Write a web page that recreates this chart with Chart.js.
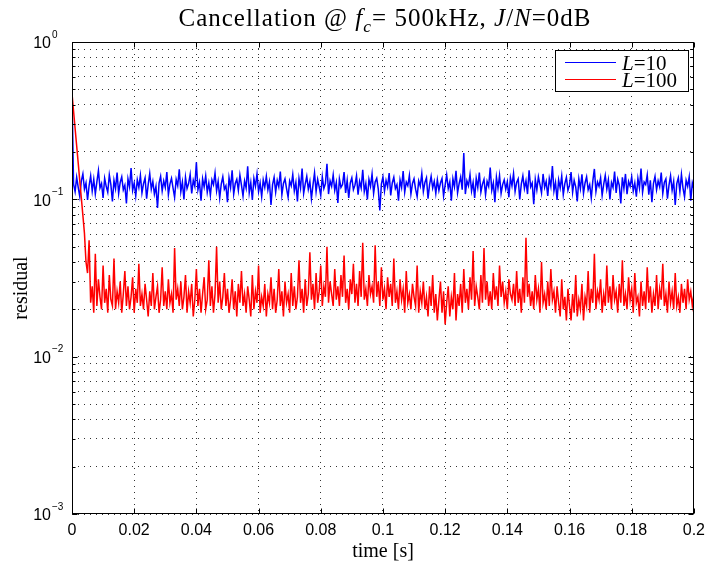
<!DOCTYPE html>
<html>
<head>
<meta charset="utf-8">
<script src="https://cdn.jsdelivr.net/npm/chart.js@4.4.0/dist/chart.umd.min.js"></script>
<style>
    html, body { margin: 0; padding: 0; background: #fff; }
</style>
</head>
<body>
<canvas id="myChart" width="712" height="570"></canvas>
<script>
// one residual sample every 0.5 ms
const timeStep = 0.0005;

const residualL10 = [
    0.47,
    0.125, 0.112, 0.138, 0.119, 0.104, 0.131, 0.145, 0.116, 0.127, 0.099, 0.122, 0.141, 0.113, 0.134, 0.108, 0.129, 0.152, 0.118, 0.126, 0.102,
    0.136, 0.121, 0.111, 0.143, 0.124, 0.097, 0.132, 0.117, 0.148, 0.109, 0.128, 0.139, 0.115, 0.123, 0.094, 0.135, 0.120, 0.158, 0.114, 0.127,
    0.105, 0.133, 0.119, 0.142, 0.110, 0.126, 0.137, 0.101, 0.124, 0.146, 0.116, 0.130, 0.108, 0.121, 0.088, 0.127, 0.140, 0.113, 0.131, 0.119,
    0.149, 0.107, 0.125, 0.136, 0.118, 0.103, 0.134, 0.122, 0.155, 0.112, 0.129, 0.100, 0.138, 0.117, 0.126, 0.144, 0.109, 0.132, 0.121, 0.172,
    0.115, 0.128, 0.098, 0.135, 0.120, 0.141, 0.111, 0.127, 0.106, 0.133, 0.124, 0.147, 0.113, 0.130, 0.102, 0.125, 0.139, 0.116, 0.122, 0.096,
    0.137, 0.119, 0.153, 0.108, 0.126, 0.134, 0.114, 0.143, 0.123, 0.105, 0.131, 0.118, 0.162, 0.110, 0.128, 0.099, 0.136, 0.121, 0.145, 0.112,
    0.127, 0.104, 0.133, 0.119, 0.140, 0.115, 0.129, 0.092, 0.124, 0.138, 0.111, 0.132, 0.120, 0.150, 0.107, 0.126, 0.135, 0.117, 0.103, 0.131,
    0.122, 0.144, 0.113, 0.128, 0.097, 0.136, 0.118, 0.157, 0.109, 0.125, 0.140, 0.116, 0.130, 0.101, 0.123, 0.147, 0.112, 0.134, 0.120, 0.106,
    0.139, 0.117, 0.126, 0.168, 0.108, 0.131, 0.121, 0.143, 0.114, 0.128, 0.095, 0.135, 0.119, 0.124, 0.149, 0.110, 0.132, 0.102, 0.127, 0.137,
    0.115, 0.123, 0.141, 0.107, 0.130, 0.118, 0.154, 0.112, 0.126, 0.100, 0.134, 0.121, 0.145, 0.109, 0.129, 0.136, 0.116, 0.085, 0.125, 0.139,
    0.113, 0.132, 0.120, 0.147, 0.106, 0.127, 0.138, 0.117, 0.124, 0.098, 0.133, 0.119, 0.151, 0.111, 0.129, 0.122, 0.142, 0.108, 0.126, 0.135,
    0.116, 0.104, 0.131, 0.121, 0.146, 0.112, 0.128, 0.137, 0.101, 0.124, 0.140, 0.118, 0.130, 0.109, 0.133, 0.114, 0.127, 0.136, 0.105, 0.123,
    0.143, 0.117, 0.129, 0.098, 0.135, 0.120, 0.152, 0.110, 0.126, 0.139, 0.115, 0.197, 0.108, 0.131, 0.122, 0.144, 0.113, 0.128, 0.102, 0.136,
    0.119, 0.148, 0.111, 0.125, 0.134, 0.107, 0.130, 0.121, 0.159, 0.114, 0.127, 0.096, 0.138, 0.118, 0.142, 0.109, 0.124, 0.133, 0.116, 0.129,
    0.103, 0.137, 0.122, 0.146, 0.112, 0.128, 0.135, 0.100, 0.125, 0.141, 0.117, 0.131, 0.108, 0.153, 0.120, 0.127, 0.093, 0.134, 0.115, 0.139,
    0.124, 0.110, 0.145, 0.119, 0.130, 0.105, 0.136, 0.121, 0.163, 0.113, 0.128, 0.099, 0.133, 0.118, 0.141, 0.107, 0.126, 0.138, 0.114, 0.123,
    0.149, 0.111, 0.132, 0.120, 0.097, 0.135, 0.117, 0.144, 0.109, 0.127, 0.139, 0.115, 0.124, 0.102, 0.131, 0.156, 0.112, 0.129, 0.121, 0.137,
    0.106, 0.125, 0.142, 0.116, 0.133, 0.100, 0.128, 0.119, 0.150, 0.110, 0.134, 0.123, 0.094, 0.138, 0.117, 0.145, 0.108, 0.130, 0.121, 0.139,
    0.113, 0.127, 0.104, 0.136, 0.118, 0.157, 0.111, 0.129, 0.124, 0.143, 0.107, 0.132, 0.096, 0.126, 0.140, 0.115, 0.131, 0.120, 0.148, 0.109,
    0.128, 0.135, 0.101, 0.123, 0.141, 0.114, 0.130, 0.092, 0.126, 0.137, 0.112, 0.144, 0.118, 0.104, 0.132, 0.121, 0.139, 0.098, 0.127, 0.116
];

const residualL100 = [
    0.47, 0.364, 0.282, 0.219, 0.170, 0.131, 0.102, 0.079, 0.061, 0.040,
    0.034, 0.055, 0.022, 0.028, 0.019, 0.045, 0.021, 0.031, 0.024, 0.020, 0.038, 0.022, 0.027, 0.019, 0.033, 0.023, 0.021, 0.042, 0.020, 0.026,
    0.022, 0.030, 0.019, 0.025, 0.035, 0.021, 0.028, 0.020, 0.024, 0.032, 0.019, 0.027, 0.022, 0.039, 0.021, 0.025, 0.020, 0.029, 0.023, 0.018,
    0.026, 0.021, 0.034, 0.020, 0.024, 0.028, 0.019, 0.023, 0.037, 0.021, 0.026, 0.020, 0.031, 0.022, 0.025, 0.019, 0.049, 0.023, 0.027, 0.021,
    0.030, 0.020, 0.024, 0.033, 0.019, 0.026, 0.022, 0.029, 0.018, 0.023, 0.036, 0.021, 0.027, 0.019, 0.025, 0.032, 0.020, 0.023, 0.041, 0.021,
    0.028, 0.019, 0.025, 0.050, 0.022, 0.030, 0.020, 0.024, 0.034, 0.021, 0.027, 0.019, 0.023, 0.031, 0.020, 0.026, 0.018, 0.029, 0.022, 0.035,
    0.021, 0.025, 0.019, 0.028, 0.023, 0.018, 0.033, 0.020, 0.026, 0.022, 0.038, 0.019, 0.024, 0.021, 0.029, 0.018, 0.025, 0.022, 0.032, 0.020,
    0.027, 0.019, 0.023, 0.036, 0.021, 0.026, 0.018, 0.030, 0.022, 0.025, 0.019, 0.034, 0.021, 0.028, 0.020, 0.024, 0.041, 0.022, 0.027, 0.019,
    0.031, 0.021, 0.025, 0.046, 0.023, 0.029, 0.020, 0.034, 0.022, 0.026, 0.038, 0.021, 0.028, 0.024, 0.050, 0.022, 0.030, 0.025, 0.021, 0.036,
    0.023, 0.028, 0.021, 0.033, 0.024, 0.044, 0.022, 0.027, 0.020, 0.031, 0.025, 0.039, 0.022, 0.029, 0.021, 0.035, 0.024, 0.053, 0.023, 0.027,
    0.021, 0.033, 0.025, 0.028, 0.022, 0.051, 0.024, 0.030, 0.021, 0.037, 0.023, 0.027, 0.020, 0.032, 0.024, 0.029, 0.021, 0.042, 0.022, 0.026,
    0.020, 0.031, 0.023, 0.027, 0.019, 0.035, 0.022, 0.025, 0.020, 0.029, 0.024, 0.021, 0.038, 0.019, 0.026, 0.022, 0.030, 0.020, 0.024, 0.018,
    0.028, 0.021, 0.033, 0.019, 0.025, 0.017, 0.023, 0.030, 0.019, 0.026, 0.016, 0.022, 0.028, 0.018, 0.024, 0.020, 0.034, 0.017, 0.025, 0.021,
    0.029, 0.019, 0.036, 0.022, 0.027, 0.020, 0.032, 0.023, 0.047, 0.021, 0.028, 0.024, 0.020, 0.033, 0.022, 0.049, 0.023, 0.030, 0.021, 0.026,
    0.020, 0.034, 0.023, 0.028, 0.021, 0.038, 0.024, 0.030, 0.022, 0.026, 0.020, 0.031, 0.025, 0.023, 0.029, 0.021, 0.035, 0.022, 0.027, 0.019,
    0.032, 0.022, 0.057, 0.024, 0.029, 0.021, 0.026, 0.020, 0.033, 0.023, 0.027, 0.019, 0.040, 0.022, 0.025, 0.020, 0.030, 0.021, 0.036, 0.023,
    0.026, 0.019, 0.028, 0.022, 0.018, 0.031, 0.020, 0.024, 0.017, 0.027, 0.021, 0.017, 0.025, 0.019, 0.033, 0.018, 0.023, 0.020, 0.029, 0.017,
    0.024, 0.021, 0.035, 0.019, 0.027, 0.022, 0.045, 0.020, 0.026, 0.023, 0.031, 0.019, 0.025, 0.021, 0.038, 0.022, 0.028, 0.020, 0.033, 0.023,
    0.026, 0.019, 0.029, 0.022, 0.041, 0.021, 0.025, 0.020, 0.032, 0.023, 0.027, 0.019, 0.034, 0.022, 0.024, 0.018, 0.030, 0.021, 0.026, 0.020,
    0.037, 0.022, 0.028, 0.019, 0.025, 0.021, 0.033, 0.020, 0.027, 0.023, 0.039, 0.021, 0.025, 0.019, 0.030, 0.022, 0.026, 0.020, 0.034, 0.021,
    0.024, 0.019, 0.029, 0.022, 0.027, 0.020, 0.031, 0.023, 0.026, 0.021, 0.025
];

const seriesNames = ['10', '100'];
const xTickStep = 0.02;
const yExponents = [0, -1, -2, -3];

const serif = '"Liberation Serif", "Times New Roman", serif';
const sans = '"Liberation Sans", Arial, sans-serif';

function toPoints(values) {
    return values.map(function (v, i) {
        return { x: +(i * timeStep).toFixed(4), y: v };
    });
}

function isDecade(v) {
    const l = Math.log10(v);
    return Math.abs(l - Math.round(l)) < 1e-9;
}

// draws a run of text pieces, some italic / subscript, centred on cx
function drawRich(ctx, parts, cx, cy, size, spacing) {
    ctx.letterSpacing = spacing + 'px';
    let total = 0;
    parts.forEach(function (p) {
        const s = p.sub ? size * 0.7 : size;
        ctx.font = (p.it ? 'italic ' : '') + s + 'px ' + serif;
        p.w = ctx.measureText(p.t).width;
        total += p.w;
    });
    let x = cx - total / 2;
    ctx.textAlign = 'left';
    ctx.textBaseline = 'alphabetic';
    parts.forEach(function (p) {
        const s = p.sub ? size * 0.7 : size;
        ctx.font = (p.it ? 'italic ' : '') + s + 'px ' + serif;
        ctx.fillText(p.t, x, cy + (p.sub ? size * 0.25 : 0));
        x += p.w;
    });
    ctx.letterSpacing = '0px';
}

const matlabAxes = {
    id: 'matlabAxes',
    afterDraw(chart) {
        const ctx = chart.ctx;
        const a = chart.chartArea;
        const xs = chart.scales.x;
        const ys = chart.scales.y;
        const L = Math.round(a.left) + 0.5;
        const R = Math.round(a.right) - 0.5;
        const T = Math.round(a.top) + 0.5;
        const B = Math.round(a.bottom) - 0.5;

        ctx.save();
        ctx.strokeStyle = '#000';
        ctx.fillStyle = '#000';
        ctx.lineWidth = 1;
        ctx.setLineDash([]);
        ctx.strokeRect(L, T, R - L, B - T);

        // inward tick marks on all four sides
        ctx.beginPath();
        xs.ticks.forEach(function (t) {
            const px = Math.round(xs.getPixelForValue(t.value)) + 0.5;
            ctx.moveTo(px, B); ctx.lineTo(px, B - 5);
            ctx.moveTo(px, T); ctx.lineTo(px, T + 5);
        });
        ys.ticks.forEach(function (t) {
            const py = Math.round(ys.getPixelForValue(t.value)) + 0.5;
            const len = isDecade(t.value) ? 5 : 3;
            ctx.moveTo(L, py); ctx.lineTo(L + len, py);
            ctx.moveTo(R, py); ctx.lineTo(R - len, py);
        });
        ctx.stroke();

        // y tick labels as 10 with a raised exponent
        yExponents.forEach(function (e) {
            const py = ys.getPixelForValue(Math.pow(10, e));
            ctx.font = '16px ' + sans;
            ctx.textAlign = 'right';
            ctx.textBaseline = 'middle';
            ctx.fillText('10', 51, py + 2);
            ctx.font = '10px ' + sans;
            ctx.textAlign = 'left';
            ctx.fillText(e === 0 ? '0' : '\u2212' + (-e), 52, py - 7);
        });

        // axis labels
        ctx.font = '20px ' + serif;
        ctx.textAlign = 'center';
        ctx.textBaseline = 'middle';
        ctx.fillText('time [s]', 383, 552);
        ctx.save();
        ctx.translate(22, 288);
        ctx.rotate(-Math.PI / 2);
        ctx.fillText('residual', 0, 0);
        ctx.restore();

        // title
        drawRich(ctx, [
            { t: 'Cancellation @ ' },
            { t: 'f', it: true },
            { t: 'c', it: true, sub: true },
            { t: '= 500kHz, ' },
            { t: 'J', it: true },
            { t: '/' },
            { t: 'N', it: true },
            { t: '=0dB' }
        ], 385, 26, 25, 1);

        // legend box
        const bx = 555.5, by = 50.5, bw = 133, bh = 41;
        ctx.fillStyle = '#fff';
        ctx.fillRect(bx, by, bw, bh);
        ctx.strokeStyle = '#000';
        ctx.strokeRect(bx, by, bw, bh);
        chart.data.datasets.forEach(function (ds, i) {
            const ly = 62.5 + i * 17;
            ctx.strokeStyle = ds.borderColor;
            ctx.beginPath();
            ctx.moveTo(565, ly);
            ctx.lineTo(616, ly);
            ctx.stroke();
            ctx.fillStyle = '#000';
            ctx.textAlign = 'left';
            ctx.textBaseline = 'alphabetic';
            ctx.font = 'italic 21px ' + serif;
            ctx.fillText('L', 622, ly + 7);
            const lw = ctx.measureText('L').width;
            ctx.font = '21px ' + serif;
            ctx.fillText('=' + seriesNames[i], 622 + lw, ly + 7);
        });
        ctx.restore();
    }
};

const ctx = document.getElementById('myChart').getContext('2d');

const myChart = new Chart(ctx, {
    type: 'line',
    data: {
        datasets: [{
            label: 'L=' + seriesNames[0],
            data: toPoints(residualL10),
            borderColor: '#0000ff',
            borderWidth: 1.5,
            pointRadius: 0,
            tension: 0,
            fill: false,
            order: 2
        }, {
            label: 'L=' + seriesNames[1],
            data: toPoints(residualL100),
            borderColor: '#ff0000',
            borderWidth: 1.5,
            pointRadius: 0,
            tension: 0,
            fill: false,
            order: 1
        }]
    },
    options: {
        responsive: false,
        animation: false,
        events: [],
        layout: {
            padding: { left: 0, right: 15, top: 42, bottom: 0 }
        },
        plugins: {
            legend: { display: false },
            title: { display: false },
            tooltip: { enabled: false }
        },
        scales: {
            x: {
                type: 'linear',
                min: 0,
                max: 0.2,
                afterFit: function (scale) { scale.height = 56; },
                ticks: {
                    stepSize: xTickStep,
                    padding: 7,
                    color: '#000',
                    font: { family: sans, size: 16 },
                    maxRotation: 0,
                    callback: function (v) { return String(parseFloat(v.toFixed(2))); }
                },
                grid: { color: '#333', lineWidth: 1, drawTicks: false },
                border: { display: false, dash: [1, 5] }
            },
            y: {
                type: 'logarithmic',
                min: 0.001,
                max: 1,
                afterFit: function (scale) { scale.width = 72; },
                afterBuildTicks: function (scale) {
                    const ticks = [];
                    for (let e = -3; e <= 0; e++) {
                        for (let m = 1; m <= 9; m++) {
                            const v = m * Math.pow(10, e);
                            if (v <= 1.0000001) ticks.push({ value: v });
                        }
                    }
                    scale.ticks = ticks;
                },
                ticks: { display: false },
                grid: { color: '#333', lineWidth: 1, drawTicks: false },
                border: { display: false, dash: [1, 5] }
            }
        }
    },
    plugins: [matlabAxes]
});
</script>
</body>
</html>
